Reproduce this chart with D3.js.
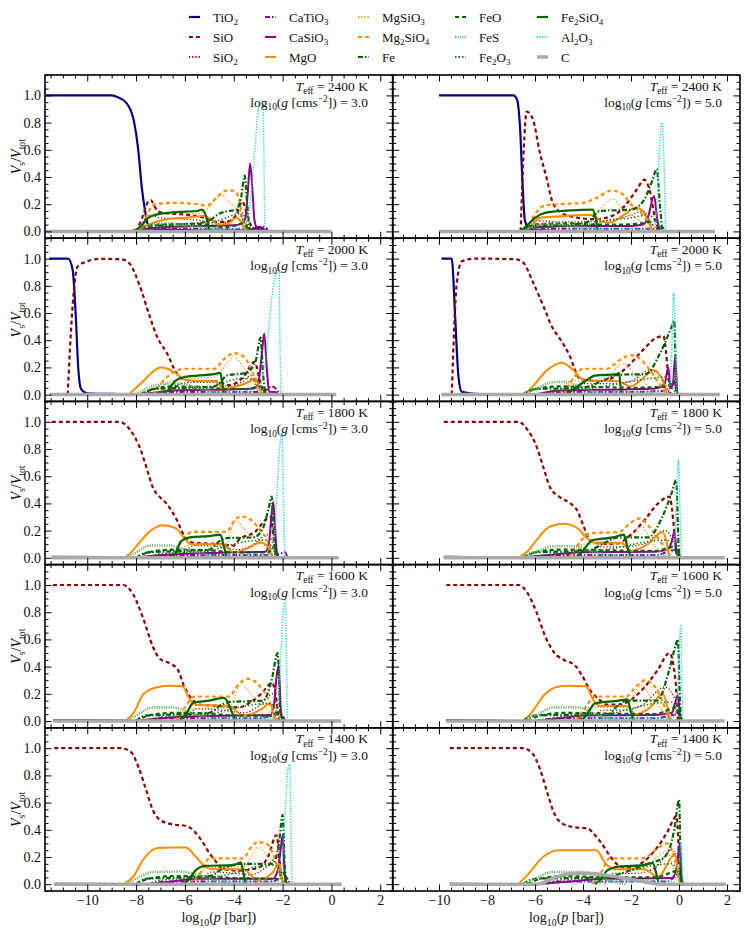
<!DOCTYPE html>
<html>
<head>
<meta charset="utf-8">
<script src="https://cdn.jsdelivr.net/npm/d3@7"></script>
<style>
  body { margin: 0; background: #fff; }
  svg, svg text { font-family: "Liberation Serif", "Times New Roman", "DejaVu Serif", serif; }
  text { fill: #111; }
</style>
</head>
<body>
<div id="chart"></div>
<script>
// Cloud composition panels: volume fraction of each species vs log10(p)
// panel order: row by row, left (log g = 3.0) then right (log g = 5.0)

const teff = [2400, 2000, 1800, 1600, 1400]
const logg = ["3.0", "5.0"]
const xTicks = [-10, -8, -6, -4, -2, 0, 2]
const yTicks = [0, 0.2, 0.4, 0.6, 0.8, 1.0]

// [log10 p, V_s/V_tot] knots
const TiO2 = [
  [[-11.7,1],[-9.0,1],[-8.8,0.99],[-8.4,0.945],[-8.1,0.82],[-7.9,0.58],[-7.77,0.33],[-7.64,0.16],[-7.5,0.04],[-7.3,0.015],[-6,0.01],[-5,0.005],[-3.5,0.005],[-2.9,0.03],[-2.75,0.01],[-2.6,0]],
  [[-10,1],[-6.9,1],[-6.75,0.97],[-6.62,0.75],[-6.52,0.35],[-6.42,0.08],[-6.25,0.02],[-5.5,0.005],[-4,0]],
  [[-11.55,1],[-10.78,1],[-10.6,0.92],[-10.47,0.58],[-10.37,0.2],[-10.25,0.04],[-10.0,0.01],[-9,0.005],[-8,0]],
  [[-9.9,1],[-9.47,1],[-9.33,0.58],[-9.19,0.13],[-9.05,0.02],[-8.5,0.005],[-7,0]],
  [[-11.45,0.007],[-9,0.005],[-8,0]],
  [[-9.8,0.007],[-8,0.004],[-7,0]],
  [[-11.4,0.007],[-9,0.005],[-8,0]],
  [[-9.7,0.006],[-8,0.003],[-7,0]],
  [[-11.35,0.003],[-9,0]],
  [[-9.55,0.003],[-8,0]]
]
const SiO = [
  [[-8.0,0],[-7.75,0.1],[-7.5,0.22],[-7.4,0.23],[-7.2,0.17],[-7.0,0.14],[-6.5,0.13],[-5.8,0.12],[-5.2,0.1],[-4.7,0.07],[-4.3,0.07],[-3.9,0.12],[-3.65,0.22],[-3.45,0.12],[-3.25,0.03],[-3.0,0]],
  [[-6.6,0],[-6.47,0.6],[-6.35,0.88],[-6.1,0.83],[-5.8,0.58],[-5.5,0.38],[-5.3,0.23],[-5.0,0.15],[-4.5,0.11],[-3.5,0.09],[-2.7,0.12],[-2.2,0.2],[-1.75,0.31],[-1.45,0.38],[-1.25,0.32],[-0.95,0.06],[-0.75,0]],
  [[-10.8,0],[-10.62,0.6],[-10.4,0.94],[-10.0,0.98],[-9.5,0.998],[-8.6,0.995],[-8.25,0.96],[-7.85,0.8],[-7.45,0.58],[-7.1,0.41],[-6.75,0.31],[-6.35,0.16],[-6.05,0.11],[-5.5,0.1],[-4.8,0.1],[-4.2,0.07],[-3.6,0.13],[-3.15,0.24],[-2.9,0.08],[-2.7,0.01],[-2.5,0]],
  [[-9.47,0],[-9.26,0.82],[-9.05,0.98],[-8.5,1.0],[-6.8,0.995],[-6.49,0.97],[-6.07,0.82],[-5.65,0.65],[-5.3,0.5],[-4.96,0.41],[-4.54,0.28],[-4.2,0.13],[-3.99,0.11],[-3.3,0.1],[-2.7,0.13],[-2.18,0.2],[-1.49,0.33],[-0.93,0.42],[-0.65,0.43],[-0.45,0.15],[-0.35,0]],
  [[-11.45,1],[-8.7,1],[-8.24,0.94],[-7.87,0.82],[-7.5,0.62],[-7.32,0.52],[-7.04,0.45],[-6.76,0.4],[-6.39,0.3],[-6.02,0.16],[-5.65,0.11],[-4.5,0.1],[-4.0,0.09],[-3.8,0.13],[-3.07,0.2],[-2.7,0.28],[-2.5,0.3],[-2.35,0.12],[-2.25,0]],
  [[-9.8,1],[-6.69,1],[-6.31,0.94],[-5.94,0.82],[-5.66,0.67],[-5.38,0.52],[-5.0,0.45],[-4.53,0.4],[-4.25,0.35],[-3.97,0.23],[-3.78,0.145],[-3.5,0.11],[-2.7,0.1],[-2.0,0.17],[-1.43,0.28],[-0.87,0.4],[-0.4,0.45],[-0.2,0.2],[-0.1,0]],
  [[-11.4,1],[-8.52,1],[-8.15,0.94],[-7.69,0.745],[-7.32,0.55],[-7.04,0.46],[-6.58,0.42],[-6.3,0.38],[-6.02,0.25],[-5.75,0.17],[-5.4,0.12],[-4.5,0.11],[-3.8,0.1],[-3.3,0.14],[-2.88,0.2],[-2.42,0.28],[-2.25,0.15],[-2.15,0]],
  [[-9.7,1],[-6.69,1],[-6.31,0.94],[-5.94,0.8],[-5.57,0.62],[-5.19,0.5],[-4.81,0.45],[-4.34,0.41],[-4.06,0.34],[-3.68,0.22],[-3.4,0.17],[-3.0,0.12],[-2.5,0.12],[-1.9,0.17],[-1.43,0.25],[-0.87,0.38],[-0.4,0.5],[-0.15,0.3],[-0.05,0]],
  [[-11.35,1],[-8.6,1],[-8.2,0.97],[-7.9,0.86],[-7.6,0.7],[-7.3,0.54],[-7.0,0.47],[-6.5,0.44],[-6.0,0.43],[-5.75,0.41],[-5.35,0.33],[-5.0,0.23],[-4.7,0.16],[-4.4,0.11],[-3.8,0.1],[-3.0,0.12],[-2.6,0.2],[-2.25,0.36],[-2.05,0.05],[-1.95,0]],
  [[-9.55,1],[-6.5,1],[-6.1,0.96],[-5.8,0.85],[-5.5,0.68],[-5.2,0.52],[-4.9,0.45],[-4.4,0.42],[-3.8,0.41],[-3.5,0.36],[-3.15,0.28],[-2.85,0.2],[-2.6,0.15],[-2.2,0.12],[-1.6,0.15],[-1.0,0.25],[-0.5,0.38],[-0.1,0.5],[0.05,0.05],[0.15,0]]
]
const SiO2 = [
  [[-7.9,0],[-7.45,0.12],[-7.0,0.1],[-6.0,0.09],[-5.3,0.08],[-4.6,0.06],[-4.0,0.1],[-3.7,0.15],[-3.4,0.04],[-3.1,0]],
  [[-6.4,0],[-6.0,0.08],[-5.0,0.07],[-4.0,0.07],[-3.0,0.08],[-2.0,0.12],[-1.5,0.15],[-1.1,0.05],[-0.8,0]],
  [[-6.8,0],[-6.2,0.08],[-5.5,0.09],[-4.8,0.09],[-4.2,0.06],[-3.6,0.1],[-3.3,0.14],[-3.0,0.03],[-2.8,0]],
  [[-4.6,0],[-4.0,0.08],[-3.0,0.08],[-2.0,0.1],[-1.2,0.18],[-0.7,0.12],[-0.4,0]],
  [[-6.2,0],[-5.6,0.09],[-4.5,0.08],[-3.8,0.06],[-3.2,0.1],[-2.6,0.17],[-2.3,0.05],[-2.2,0]],
  [[-3.9,0],[-3.4,0.08],[-2.5,0.08],[-1.5,0.1],[-0.6,0.2],[-0.2,0.1],[-0.05,0]],
  [[-6.0,0],[-5.5,0.09],[-4.5,0.08],[-3.6,0.06],[-2.9,0.12],[-2.4,0.2],[-2.15,0]],
  [[-3.6,0],[-3.2,0.08],[-2.3,0.08],[-1.5,0.12],[-0.6,0.25],[-0.15,0.15],[0,0]],
  [[-5.4,0],[-4.9,0.09],[-4.0,0.08],[-3.3,0.07],[-2.7,0.12],[-2.2,0.2],[-2.0,0]],
  [[-3.1,0],[-2.7,0.08],[-1.8,0.08],[-1.0,0.12],[-0.3,0.25],[0.05,0.1],[0.15,0]]
]
const CaTiO3 = [
  [[-7.8,0],[-7.2,0.02],[-5,0.02],[-3.5,0.015],[-2.9,0.035],[-2.7,0.03],[-2.6,0]],
  [[-6.2,0],[-5.5,0.02],[-3,0.02],[-1.0,0.02],[-0.7,0.03],[-0.55,0]],
  [[-7.5,0],[-6.8,0.02],[-4.5,0.02],[-2.8,0.02],[-2.45,0.06],[-2.2,0.03],[-2.1,0]],
  [[-6.0,0],[-5.0,0.02],[-2,0.02],[-0.4,0.03],[-0.2,0.1],[-0.1,0]],
  [[-7.5,0],[-6.8,0.02],[-3,0.02],[-2.1,0.03],[-1.9,0.04],[-1.8,0]],
  [[-6.0,0],[-5.0,0.02],[-1,0.02],[-0.1,0.06],[0.05,0]],
  [[-7.5,0],[-6.8,0.02],[-3,0.02],[-2.05,0.05],[-1.9,0]],
  [[-6,0],[-5,0.02],[-1,0.02],[0,0.05],[0.1,0]],
  [[-7.5,0],[-6.8,0.02],[-2.5,0.02],[-1.85,0.05],[-1.7,0]],
  [[-6,0],[-5,0.02],[-0.5,0.02],[0.05,0.08],[0.15,0]]
]
const CaSiO3 = [
  [[-8.4,0],[-7.5,0.02],[-7,0.03],[-5.5,0.04],[-4,0.045],[-3.7,0.055],[-3.52,0.1],[-3.42,0.3],[-3.33,0.5],[-3.25,0.35],[-3.15,0.08],[-3.0,0.01],[-2.8,0.02],[-2.6,0]],
  [[-6.5,0],[-6.0,0.03],[-4,0.04],[-2,0.04],[-1.5,0.05],[-1.3,0.1],[-1.04,0.26],[-0.9,0.08],[-0.8,0]],
  [[-8,0],[-7,0.02],[-6.5,0.03],[-4,0.04],[-3.2,0.045],[-3.0,0.08],[-2.85,0.3],[-2.75,0.45],[-2.65,0.2],[-2.55,0.02],[-2.3,0.02],[-2.15,0]],
  [[-6,0],[-5,0.03],[-2,0.04],[-1,0.045],[-0.6,0.08],[-0.45,0.2],[-0.35,0.05],[-0.25,0.08],[-0.17,0.27],[-0.08,0]],
  [[-8,0],[-7,0.02],[-6,0.03],[-4,0.04],[-2.7,0.045],[-2.55,0.12],[-2.45,0.32],[-2.38,0.41],[-2.3,0.2],[-2.22,0.02],[-2.1,0]],
  [[-6.5,0],[-5.5,0.02],[-4,0.04],[-1,0.045],[-0.5,0.06],[-0.3,0.12],[-0.2,0.19],[-0.1,0.05],[0,0]],
  [[-8,0],[-7,0.02],[-6,0.03],[-4,0.04],[-2.5,0.045],[-2.35,0.12],[-2.25,0.32],[-2.16,0.41],[-2.08,0.1],[-2.0,0]],
  [[-6,0],[-5,0.02],[-4,0.04],[-1,0.045],[-0.3,0.06],[-0.15,0.14],[-0.05,0.19],[0.05,0.03],[0.1,0]],
  [[-7.5,0],[-6.5,0.02],[-5.6,0.04],[-2.4,0.04],[-2.2,0.1],[-2.08,0.25],[-2.0,0.36],[-1.92,0.1],[-1.85,0]],
  [[-6,0],[-4.5,0.02],[-3.2,0.04],[-0.3,0.045],[-0.1,0.12],[0.03,0.3],[0.1,0.05],[0.15,0]]
]
const MgO = [
  [[-8.3,0],[-7.9,0.02],[-7.5,0.05],[-7.0,0.08],[-6.5,0.095],[-6.0,0.1],[-5.5,0.11],[-5.2,0.115],[-4.95,0.09],[-4.6,0.05],[-4.2,0.06],[-3.9,0.1],[-3.7,0.07],[-3.5,0.01],[-3.4,0]],
  [[-6.5,0],[-6.2,0.03],[-5.8,0.1],[-5.0,0.11],[-4.0,0.12],[-3.6,0.12],[-3.2,0.07],[-2.9,0.065],[-2.3,0.12],[-1.8,0.175],[-1.5,0.15],[-1.2,0.04],[-1.05,0]],
  [[-8.3,0],[-7.7,0.1],[-7.3,0.17],[-7.0,0.2],[-6.7,0.19],[-6.4,0.16],[-6.0,0.11],[-5.5,0.1],[-4.8,0.1],[-4.4,0.045],[-3.9,0.06],[-3.3,0.1],[-3.1,0.12],[-2.95,0.05],[-2.85,0]],
  [[-6.5,0],[-6.2,0.04],[-5.5,0.18],[-4.9,0.235],[-4.4,0.18],[-4.0,0.11],[-3.0,0.1],[-2.6,0.1],[-2.0,0.06],[-1.5,0.12],[-1.07,0.18],[-0.65,0.09],[-0.5,0]],
  [[-8.5,0],[-8.2,0.04],[-7.87,0.11],[-7.4,0.2],[-6.9,0.24],[-6.4,0.22],[-6.0,0.14],[-5.75,0.1],[-4.45,0.1],[-4.0,0.04],[-3.43,0.07],[-2.88,0.113],[-2.6,0.08],[-2.45,0]],
  [[-6.7,0],[-6.3,0.05],[-5.94,0.13],[-5.38,0.23],[-4.81,0.25],[-4.25,0.22],[-3.87,0.15],[-3.5,0.11],[-2.4,0.11],[-2.0,0.05],[-1.3,0.1],[-0.68,0.19],[-0.5,0.1],[-0.4,0]],
  [[-8.45,0],[-8.1,0.06],[-7.69,0.2],[-7.1,0.25],[-6.58,0.26],[-6.1,0.255],[-5.84,0.17],[-5.56,0.12],[-4.18,0.11],[-3.62,0.04],[-2.88,0.085],[-2.51,0.13],[-2.35,0.05],[-2.24,0]],
  [[-6.5,0],[-6.2,0.05],[-5.57,0.2],[-5.1,0.25],[-4.62,0.26],[-3.87,0.255],[-3.59,0.16],[-3.3,0.11],[-2.2,0.11],[-1.8,0.05],[-1.2,0.1],[-0.68,0.2],[-0.45,0.08],[-0.35,0]],
  [[-8.5,0],[-8.1,0.06],[-7.71,0.18],[-7.13,0.266],[-6.5,0.27],[-5.96,0.27],[-5.57,0.205],[-5.18,0.13],[-4.9,0.11],[-3.61,0.11],[-3.03,0.03],[-2.44,0.08],[-2.14,0.15],[-2.0,0.02],[-1.95,0]],
  [[-6.7,0],[-6.3,0.07],[-5.63,0.205],[-5.03,0.25],[-4.2,0.25],[-3.45,0.25],[-3.05,0.15],[-2.7,0.11],[-1.46,0.11],[-0.87,0.055],[-0.17,0.22],[0.0,0.05],[0.05,0]]
]
const MgSiO3 = [
  [[-7.8,0],[-7.4,0.12],[-6.5,0.13],[-5.5,0.13],[-5.0,0.18],[-4.5,0.27],[-4.1,0.2],[-3.8,0.15],[-3.5,0.03],[-3.4,0]],
  [[-6.2,0],[-5.6,0.1],[-4.5,0.12],[-3.6,0.12],[-2.8,0.24],[-2.3,0.16],[-1.8,0.1],[-1.3,0.03],[-1.1,0]],
  [[-7.2,0],[-6.6,0.1],[-5.5,0.12],[-4.8,0.13],[-4.4,0.2],[-4.0,0.28],[-3.6,0.2],[-3.2,0.1],[-2.95,0]],
  [[-5.0,0],[-4.5,0.1],[-3.2,0.1],[-2.3,0.23],[-1.9,0.16],[-1.4,0.08],[-1.0,0]],
  [[-6.5,0],[-6.0,0.08],[-5.6,0.1],[-4.3,0.1],[-3.95,0.27],[-3.4,0.18],[-2.9,0.12],[-2.6,0.06],[-2.4,0]],
  [[-4.5,0],[-4.0,0.1],[-2.4,0.1],[-1.55,0.23],[-1.2,0.13],[-0.8,0.05],[-0.5,0]],
  [[-6.3,0],[-5.8,0.09],[-4.2,0.1],[-3.71,0.265],[-3.2,0.18],[-2.7,0.1],[-2.35,0.02],[-2.25,0]],
  [[-4.2,0],[-3.7,0.1],[-2.3,0.1],[-1.53,0.26],[-1.1,0.15],[-0.7,0.08],[-0.4,0]],
  [[-5.6,0],[-5.1,0.12],[-3.6,0.13],[-3.0,0.27],[-2.6,0.2],[-2.25,0.14],[-2.0,0]],
  [[-3.3,0],[-2.9,0.12],[-1.5,0.13],[-0.5,0.24],[-0.2,0.1],[0.05,0]]
]
const Mg2SiO4 = [
  [[-7.8,0],[-7.5,0.14],[-7.2,0.2],[-6.5,0.21],[-5.5,0.2],[-5.1,0.19],[-4.7,0.25],[-4.3,0.3],[-4.0,0.3],[-3.8,0.25],[-3.6,0.06],[-3.45,0]],
  [[-6.4,0],[-6.1,0.1],[-5.6,0.19],[-5.0,0.2],[-4.0,0.21],[-3.4,0.25],[-2.8,0.3],[-2.4,0.28],[-2.0,0.2],[-1.5,0.12],[-1.15,0.04],[-1.0,0]],
  [[-7.3,0],[-6.9,0.1],[-6.5,0.16],[-6.0,0.19],[-4.8,0.19],[-4.4,0.26],[-4.0,0.305],[-3.6,0.28],[-3.2,0.15],[-3.0,0.05],[-2.9,0]],
  [[-4.8,0],[-4.4,0.12],[-4.0,0.19],[-3.0,0.19],[-2.5,0.25],[-2.0,0.29],[-1.6,0.26],[-1.3,0.2],[-0.9,0.1],[-0.7,0.05],[-0.5,0]],
  [[-6.5,0],[-6.2,0.1],[-5.7,0.19],[-4.3,0.19],[-3.95,0.28],[-3.7,0.304],[-3.3,0.28],[-2.9,0.2],[-2.6,0.12],[-2.4,0]],
  [[-4.6,0],[-4.2,0.1],[-3.7,0.18],[-2.5,0.19],[-2.0,0.26],[-1.62,0.29],[-1.2,0.22],[-0.7,0.1],[-0.35,0]],
  [[-6.4,0],[-6.0,0.1],[-5.6,0.18],[-4.2,0.18],[-3.8,0.27],[-3.43,0.31],[-2.9,0.25],[-2.5,0.12],[-2.3,0]],
  [[-4.3,0],[-3.9,0.1],[-3.5,0.18],[-2.2,0.18],[-1.8,0.25],[-1.4,0.3],[-1.0,0.25],[-0.7,0.15],[-0.4,0]],
  [[-5.8,0],[-5.3,0.1],[-5.0,0.19],[-3.61,0.19],[-3.3,0.27],[-3.03,0.31],[-2.6,0.29],[-2.25,0.15],[-2.0,0]],
  [[-3.6,0],[-3.2,0.1],[-2.9,0.19],[-1.5,0.19],[-1.0,0.25],[-0.5,0.3],[-0.2,0.2],[0.05,0]]
]
const Fe = [
  [[-7.9,0],[-7.4,0.04],[-6.5,0.05],[-5.5,0.06],[-5.0,0.08],[-4.6,0.13],[-4.2,0.15],[-3.9,0.16],[-3.7,0.25],[-3.55,0.41],[-3.45,0.2],[-3.35,0.02],[-3.2,0]],
  [[-6.5,0],[-6.0,0.04],[-4.5,0.05],[-3.8,0.07],[-3.3,0.15],[-2.0,0.16],[-1.5,0.22],[-1.1,0.38],[-0.93,0.46],[-0.8,0.2],[-0.7,0]],
  [[-7.8,0],[-7.3,0.04],[-6,0.05],[-4.8,0.06],[-4.5,0.1],[-4.3,0.14],[-3.5,0.16],[-3.1,0.25],[-2.9,0.42],[-2.8,0.15],[-2.7,0]],
  [[-6.5,0],[-6.0,0.04],[-4.0,0.05],[-3.2,0.1],[-2.5,0.147],[-1.4,0.15],[-0.8,0.3],[-0.35,0.48],[-0.2,0.54],[-0.12,0.1],[-0.05,0]],
  [[-8.0,0],[-7.5,0.04],[-6,0.05],[-5,0.06],[-4.6,0.12],[-4.3,0.145],[-3.2,0.15],[-2.8,0.22],[-2.55,0.38],[-2.45,0.45],[-2.33,0.1],[-2.2,0]],
  [[-6.5,0],[-6.0,0.04],[-3.8,0.05],[-3.2,0.1],[-2.5,0.15],[-1.3,0.15],[-0.7,0.3],[-0.3,0.48],[-0.12,0.57],[-0.02,0.1],[0.05,0]],
  [[-8.0,0],[-7.6,0.04],[-6,0.05],[-5,0.06],[-4.5,0.12],[-4.2,0.14],[-2.8,0.15],[-2.45,0.3],[-2.2,0.5],[-2.1,0.1],[-2.0,0]],
  [[-6.5,0],[-6.0,0.04],[-3,0.05],[-2.5,0.12],[-2.2,0.15],[-0.9,0.15],[-0.45,0.35],[-0.15,0.55],[-0.05,0.6],[0.05,0.1],[0.12,0]],
  [[-8.0,0],[-7.6,0.04],[-6,0.05],[-5,0.06],[-4.4,0.12],[-3.8,0.15],[-2.4,0.15],[-2.15,0.3],[-2.0,0.51],[-1.9,0.1],[-1.8,0]],
  [[-6.5,0],[-6.0,0.04],[-3,0.05],[-2.4,0.08],[-1.3,0.15],[-0.6,0.2],[-0.2,0.4],[0.0,0.62],[0.08,0.1],[0.15,0]]
]
const FeO = [
  [[-8.0,0],[-7.5,0.04],[-7.0,0.05],[-5.5,0.055],[-5.0,0.045],[-4.5,0.03],[-4.0,0.04],[-3.6,0.06],[-3.4,0.02],[-3.2,0]],
  [[-6.5,0],[-6.0,0.05],[-4.5,0.06],[-3.5,0.05],[-2.5,0.05],[-1.5,0.06],[-1.0,0.08],[-0.8,0]],
  [[-7.8,0],[-7.3,0.04],[-6.5,0.06],[-5.0,0.055],[-4.4,0.04],[-3.5,0.04],[-2.9,0.06],[-2.7,0]],
  [[-6.5,0],[-6.0,0.04],[-5,0.06],[-3.2,0.055],[-2,0.05],[-0.5,0.06],[-0.2,0.1],[-0.1,0]],
  [[-8.0,0],[-7.5,0.04],[-6.5,0.06],[-5,0.055],[-4,0.04],[-2.6,0.04],[-2.35,0.08],[-2.2,0]],
  [[-6.5,0],[-6,0.04],[-5,0.06],[-3,0.055],[-1,0.05],[-0.2,0.08],[0,0]],
  [[-8.0,0],[-7.5,0.04],[-6.5,0.06],[-5,0.055],[-4,0.04],[-2.4,0.04],[-2.15,0.08],[-2.0,0]],
  [[-6.3,0],[-5.8,0.04],[-4.8,0.06],[-3,0.055],[-1,0.05],[-0.1,0.1],[0.05,0]],
  [[-8.0,0],[-7.5,0.04],[-6.5,0.06],[-5,0.055],[-4,0.045],[-2.2,0.04],[-2.0,0.1],[-1.85,0]],
  [[-6.3,0],[-5.8,0.04],[-4.8,0.06],[-3,0.05],[-1,0.05],[0,0.1],[0.1,0]]
]
const FeS = [
  [[-8.0,0],[-7.5,0.04],[-6.8,0.06],[-6.0,0.05],[-5.3,0.03],[-4.5,0.01],[-4.0,0]],
  [[-6.5,0],[-6.0,0.04],[-5.3,0.06],[-4.5,0.04],[-3.5,0.02],[-3,0]],
  [[-8.0,0],[-7.5,0.05],[-6.8,0.08],[-6.2,0.08],[-5.5,0.05],[-4.8,0.02],[-4.2,0]],
  [[-6.5,0],[-6.0,0.04],[-5.3,0.09],[-4.7,0.095],[-4.2,0.06],[-3.5,0.02],[-3,0]],
  [[-8.4,0],[-8.0,0.04],[-7.4,0.09],[-6.6,0.09],[-6.0,0.06],[-5.3,0.03],[-4.5,0]],
  [[-6.6,0],[-6.0,0.04],[-5.2,0.085],[-4.3,0.085],[-3.7,0.05],[-3.0,0.02],[-2.5,0]],
  [[-8.4,0],[-8.0,0.04],[-7.3,0.1],[-6.5,0.1],[-5.9,0.07],[-5.2,0.03],[-4.5,0]],
  [[-6.5,0],[-6.0,0.04],[-5.2,0.1],[-4.2,0.1],[-3.6,0.06],[-3.0,0.02],[-2.5,0]],
  [[-8.4,0],[-8.0,0.04],[-7.3,0.09],[-6.2,0.093],[-5.5,0.07],[-4.8,0.03],[-4.0,0]],
  [[-6.5,0],[-6.0,0.04],[-5.3,0.09],[-4.0,0.09],[-3.4,0.06],[-2.8,0.02],[-2.2,0]]
]
const Fe2O3 = [
  [[-7.6,0],[-7.0,0.03],[-5.5,0.04],[-5.0,0.06],[-4.3,0.1],[-3.8,0.13],[-3.6,0.08],[-3.4,0]],
  [[-6.2,0],[-5.5,0.03],[-3.8,0.05],[-3.0,0.08],[-2.0,0.1],[-1.3,0.12],[-0.9,0.06],[-0.7,0]],
  [[-7.4,0],[-6.8,0.03],[-5.0,0.05],[-4.4,0.09],[-3.6,0.12],[-3.0,0.1],[-2.8,0]],
  [[-5.5,0],[-5.0,0.03],[-3.5,0.05],[-2.5,0.08],[-1.5,0.11],[-0.6,0.13],[-0.25,0.04],[-0.1,0]],
  [[-7.5,0],[-7.0,0.03],[-5.0,0.05],[-4.4,0.08],[-3.5,0.12],[-2.7,0.13],[-2.35,0.05],[-2.2,0]],
  [[-5.8,0],[-5.2,0.03],[-3.5,0.05],[-2.4,0.08],[-1.3,0.12],[-0.5,0.13],[-0.15,0.04],[0,0]],
  [[-7.5,0],[-7.0,0.03],[-5.0,0.05],[-4.3,0.08],[-3.2,0.12],[-2.5,0.13],[-2.15,0.04],[-2.0,0]],
  [[-5.5,0],[-5.0,0.03],[-3.0,0.05],[-2.0,0.09],[-1.0,0.13],[-0.3,0.14],[0.0,0.04],[0.1,0]],
  [[-7.5,0],[-7.0,0.03],[-5.0,0.05],[-4.0,0.08],[-3.0,0.13],[-2.3,0.14],[-2.0,0.04],[-1.85,0]],
  [[-5.5,0],[-5.0,0.03],[-3.0,0.05],[-2.0,0.1],[-1.0,0.14],[-0.3,0.15],[0.05,0.04],[0.15,0]]
]
const Fe2SiO4 = [
  [[-8.1,0],[-7.8,0.04],[-7.5,0.1],[-7.0,0.13],[-6.5,0.14],[-6.0,0.145],[-5.5,0.15],[-5.3,0.16],[-5.15,0.12],[-5.0,0.02],[-4.9,0]],
  [[-6.6,0],[-6.3,0.05],[-6.0,0.1],[-5.5,0.14],[-4.5,0.155],[-3.6,0.16],[-3.48,0.1],[-3.38,0.01],[-3.3,0]],
  [[-7.0,0],[-6.7,0.03],[-6.4,0.1],[-6.0,0.13],[-5.5,0.14],[-4.8,0.15],[-4.55,0.16],[-4.45,0.06],[-4.35,0]],
  [[-4.7,0],[-4.4,0.04],[-3.9,0.1],[-3.5,0.14],[-2.6,0.15],[-2.5,0.16],[-2.45,0.08],[-2.38,0]],
  [[-6.6,0],[-6.39,0.03],[-6.17,0.12],[-5.8,0.15],[-5.0,0.16],[-4.55,0.17],[-4.4,0.08],[-4.27,0]],
  [[-4.3,0],[-4.06,0.04],[-3.6,0.13],[-2.75,0.15],[-2.3,0.17],[-2.15,0.08],[-2.0,0]],
  [[-6.3,0],[-6.02,0.03],[-5.65,0.135],[-5.0,0.15],[-4.4,0.17],[-4.15,0.1],[-3.95,0]],
  [[-4.1,0],[-3.87,0.04],[-3.5,0.13],[-2.5,0.15],[-2.15,0.16],[-2.0,0.06],[-1.85,0]],
  [[-6.1,0],[-5.86,0.03],[-5.57,0.1],[-5.18,0.135],[-4.0,0.14],[-3.71,0.16],[-3.6,0.08],[-3.5,0]],
  [[-3.5,0],[-3.25,0.04],[-3.0,0.1],[-2.5,0.13],[-1.5,0.14],[-1.1,0.155],[-0.95,0.08],[-0.85,0]]
]
const Al2O3 = [
  [[-6.0,0],[-5.0,0.02],[-4.0,0.02],[-3.6,0.04],[-3.4,0.12],[-3.2,0.45],[-3.05,0.8],[-2.93,0.95],[-2.8,0.96],[-2.76,0.5],[-2.73,0]],
  [[-5.0,0],[-4.0,0.02],[-1.5,0.02],[-1.0,0.05],[-0.9,0.25],[-0.8,0.65],[-0.72,0.8],[-0.64,0.6],[-0.56,0]],
  [[-5.5,0],[-4.8,0.02],[-3.4,0.02],[-3.0,0.05],[-2.7,0.25],[-2.45,0.7],[-2.25,0.9],[-2.15,0.93],[-2.1,0.3],[-2.07,0]],
  [[-4.5,0],[-3.5,0.02],[-0.6,0.02],[-0.4,0.05],[-0.3,0.35],[-0.22,0.75],[-0.15,0.4],[-0.1,0]],
  [[-5.5,0],[-4.8,0.02],[-2.6,0.02],[-2.4,0.06],[-2.25,0.4],[-2.1,0.85],[-2.02,0.92],[-1.96,0.4],[-1.91,0]],
  [[-4.5,0],[-3.5,0.02],[-0.4,0.02],[-0.2,0.08],[-0.1,0.45],[-0.02,0.72],[0.05,0.3],[0.1,0]],
  [[-5.5,0],[-4.8,0.02],[-2.4,0.02],[-2.2,0.1],[-2.05,0.55],[-1.95,0.85],[-1.88,0.88],[-1.84,0.4],[-1.8,0]],
  [[-4.5,0],[-3.5,0.02],[-0.3,0.02],[-0.1,0.1],[0.0,0.5],[0.07,0.71],[0.12,0.3],[0.16,0]],
  [[-5.5,0],[-4.8,0.02],[-2.2,0.02],[-2.05,0.1],[-1.9,0.5],[-1.78,0.85],[-1.7,0.88],[-1.66,0.4],[-1.62,0]],
  [[-4.5,0],[-3.5,0.02],[-0.2,0.02],[0.0,0.1],[0.08,0.3],[0.14,0.1],[0.18,0]]
]
const C = [
  [[-11.7,0],[0.0,0]],
  [[-10.0,0],[1.5,0]],
  [[-11.55,0],[0.2,0]],
  [[-9.9,0],[1.7,0]],
  [[-11.45,0],[0.3,0]],
  [[-9.8,0],[1.9,0]],
  [[-11.4,0],[0.4,0]],
  [[-9.7,0],[1.9,0]],
  [[-11.35,0],[0.42,0]],
  [[-9.55,0],[-5.9,0],[-5.3,0.04],[-4.6,0.075],[-3.8,0.08],[-3.0,0.065],[-2.0,0.035],[-1.2,0.01],[-0.8,0],[1.96,0]]
]

// line styles, in legend / drawing order
let species = [
  { name: "TiO_2",    data: TiO2,    color: "#00008b", width: 2.2, dash: null },
  { name: "SiO",      data: SiO,     color: "#8b0000", width: 2.2, dash: "4,3" },
  { name: "SiO_2",    data: SiO2,    color: "#8b0000", width: 1.2, dash: "1.2,2" },
  { name: "CaTiO_3",  data: CaTiO3,  color: "#8b008b", width: 2,   dash: "5,2,1.5,2" },
  { name: "CaSiO_3",  data: CaSiO3,  color: "#8b008b", width: 2,   dash: null },
  { name: "MgO",      data: MgO,     color: "#ff8c00", width: 2,   dash: null },
  { name: "MgSiO_3",  data: MgSiO3,  color: "#ff8c00", width: 1.2, dash: "1.2,2" },
  { name: "Mg_2SiO_4",data: Mg2SiO4, color: "#ff8c00", width: 2.2, dash: "4,3" },
  { name: "Fe",       data: Fe,      color: "#006400", width: 2.2, dash: "5,2,1.5,2" },
  { name: "FeO",      data: FeO,     color: "#006400", width: 2.2, dash: "4,3" },
  { name: "FeS",      data: FeS,     color: "#6fb46f", width: 2.6, dash: "1.2,1.2" },
  { name: "Fe_2O_3",  data: Fe2O3,   color: "#1c801c", width: 1.6, dash: "1.5,2" },
  { name: "Fe_2SiO_4",data: Fe2SiO4, color: "#006400", width: 2.2, dash: null },
  { name: "Al_2O_3",  data: Al2O3,   color: "#20d4dc", width: 1.5, dash: "1.2,1.5" },
  { name: "C",        data: C,       color: "#a9a9a9", width: 3.5, dash: null }
]

let serif = "'Liberation Serif', 'Times New Roman', 'DejaVu Serif', serif"
let width = 747, height = 934
let svg = d3.select("#chart").append("svg")
    .attr("width", width)
    .attr("height", height)
    .attr("font-family", serif)

// text with sub/superscripts: parts = [{t, i, s}]
let rich = function(sel, parts, size) {
  let shift = 0
  sel.attr("font-family", serif)
  parts.forEach(function(p) {
    let target = p.s === "sub" ? size * 0.25 : p.s === "sup" ? -size * 0.35 : 0
    let ts = sel.append("tspan").text(p.t).attr("dy", target - shift)
    shift = target
    if (p.i) ts.attr("font-style", "italic")
    if (p.s) ts.attr("font-size", size * 0.7)
  })
}
let chem = function(name) {
  return name.split(/(_\d)/).filter(function(s) { return s.length }).map(function(s) {
    return s[0] === "_" ? { t: s.slice(1), s: "sub" } : { t: s }
  })
}

// Legend (column-major, 3 rows)
let legend = svg.append("g").attr("font-size", 13)
let legX = [189, 265, 358, 455, 537],
    legY = [17, 37, 57]
species.forEach(function(s, i) {
  let lx = legX[Math.floor(i / 3)], ly = legY[i % 3]
  legend.append("line")
      .attr("x1", lx).attr("x2", lx + 11)
      .attr("y1", ly).attr("y2", ly)
      .attr("stroke", s.color)
      .attr("stroke-width", Math.max(s.width, 2))
      .attr("stroke-dasharray", s.dash)
  let t = legend.append("text").attr("x", lx + 24).attr("y", ly + 4.5)
  rich(t, chem(s.name), 13)
})

// Panel grid
let cols = [
  { x0: 45,    x1: 392.7, dom: [-11.73, 2.51], annX: 368 },
  { x0: 392.7, x1: 740,   dom: [-11.93, 2.54], annX: 722 }
]
let top0 = 75, rowH = 163.2
let yDom = [-0.05, 1.15]

let line = d3.line().curve(d3.curveMonotoneX)

teff.forEach(function(T, r) {
  cols.forEach(function(col, c) {
    let idx = r * 2 + c
    let w = col.x1 - col.x0
    let top = top0 + r * rowH
    let x = d3.scaleLinear().domain(col.dom).range([0, w])
    let y = d3.scaleLinear().domain(yDom).range([rowH, 0])

    let g = svg.append("g").attr("transform", "translate(" + col.x0 + "," + top + ")")

    let clipId = "clip" + idx
    g.append("clipPath").attr("id", clipId)
      .append("rect").attr("width", w).attr("height", rowH)

    let plot = g.append("g").attr("clip-path", "url(#" + clipId + ")")
    species.forEach(function(s) {
      plot.append("path")
          .datum(s.data[idx])
          .attr("fill", "none")
          .attr("stroke", s.color)
          .attr("stroke-width", s.width)
          .attr("stroke-dasharray", s.dash)
          .attr("stroke-linejoin", "round")
          .attr("d", line.x(function(d) { return x(d[0]) }).y(function(d) { return y(d[1]) }))
    })

    // ticks inward on all four sides
    let xMinor = d3.range(-12, 3.01, 0.5).filter(function(v) {
      return v >= col.dom[0] && v <= col.dom[1] && xTicks.indexOf(v) < 0
    })
    let yMinor = d3.range(-0.05, 1.151, 0.05).map(function(v) { return +v.toFixed(2) })
      .filter(function(v) { return yTicks.indexOf(v) < 0 })

    let addAxis = function(axis, tx, ty) {
      let a = g.append("g").attr("transform", "translate(" + tx + "," + ty + ")").call(axis)
      a.attr("font-family", serif)
      a.select(".domain").remove()
      a.selectAll(".tick line").attr("stroke", "#000").attr("stroke-width", 1)
      a.selectAll(".tick text")
          .attr("font-family", serif)
          .attr("font-size", 14)
          .attr("fill", "#111")
      return a
    }

    addAxis(d3.axisBottom(x).tickValues(xTicks).tickSize(-6.5).tickPadding(4)
        .tickFormat(r === teff.length - 1 ? d3.format("d") : ""), 0, rowH)
    addAxis(d3.axisBottom(x).tickValues(xMinor).tickSize(-3.5).tickFormat(""), 0, rowH)
    addAxis(d3.axisTop(x).tickValues(xTicks).tickSize(-6.5).tickFormat(""), 0, 0)
    addAxis(d3.axisTop(x).tickValues(xMinor).tickSize(-3.5).tickFormat(""), 0, 0)
    addAxis(d3.axisLeft(y).tickValues(yTicks).tickSize(-6.5).tickPadding(4)
        .tickFormat(c === 0 ? d3.format(".1f") : ""), 0, 0)
    addAxis(d3.axisLeft(y).tickValues(yMinor).tickSize(-3.5).tickFormat(""), 0, 0)
    addAxis(d3.axisRight(y).tickValues(yTicks).tickSize(-6.5).tickFormat(""), w, 0)
    addAxis(d3.axisRight(y).tickValues(yMinor).tickSize(-3.5).tickFormat(""), w, 0)

    g.append("rect")
        .attr("width", w).attr("height", rowH)
        .attr("fill", "none")
        .attr("stroke", "#000")
        .attr("stroke-width", 1.6)

    // annotation top right
    let ax = col.annX - col.x0
    let t1 = g.append("text").attr("x", ax).attr("y", 15.5)
        .attr("text-anchor", "end").attr("font-size", 13.5)
    rich(t1, [{ t: "T", i: 1 }, { t: "eff", s: "sub" }, { t: " = " + T + " K" }], 13.5)
    let t2 = g.append("text").attr("x", ax).attr("y", 32)
        .attr("text-anchor", "end").attr("font-size", 13.5)
    rich(t2, [{ t: "log" }, { t: "10", s: "sub" }, { t: "(" }, { t: "g", i: 1 },
              { t: " [cms" }, { t: "\u22122", s: "sup" }, { t: "]) = " + logg[c] }], 13.5)

    // y label on left column
    if (c === 0) {
      let yl = svg.append("text")
          .attr("transform", "translate(21," + (top + rowH / 2) + ") rotate(-90)")
          .attr("text-anchor", "middle")
          .attr("font-size", 14)
      rich(yl, [{ t: "V", i: 1 }, { t: "s", s: "sub" }, { t: "/" }, { t: "V", i: 1 }, { t: "tot", s: "sub" }], 14)
    }

    // x label under bottom row
    if (r === teff.length - 1) {
      let xl = svg.append("text")
          .attr("x", col.x0 + w / 2)
          .attr("y", top + rowH + 31)
          .attr("text-anchor", "middle")
          .attr("font-size", 14)
      rich(xl, [{ t: "log" }, { t: "10", s: "sub" }, { t: "(" }, { t: "p", i: 1 }, { t: " [bar])" }], 14)
    }
  })
})
</script>
</body>
</html>
